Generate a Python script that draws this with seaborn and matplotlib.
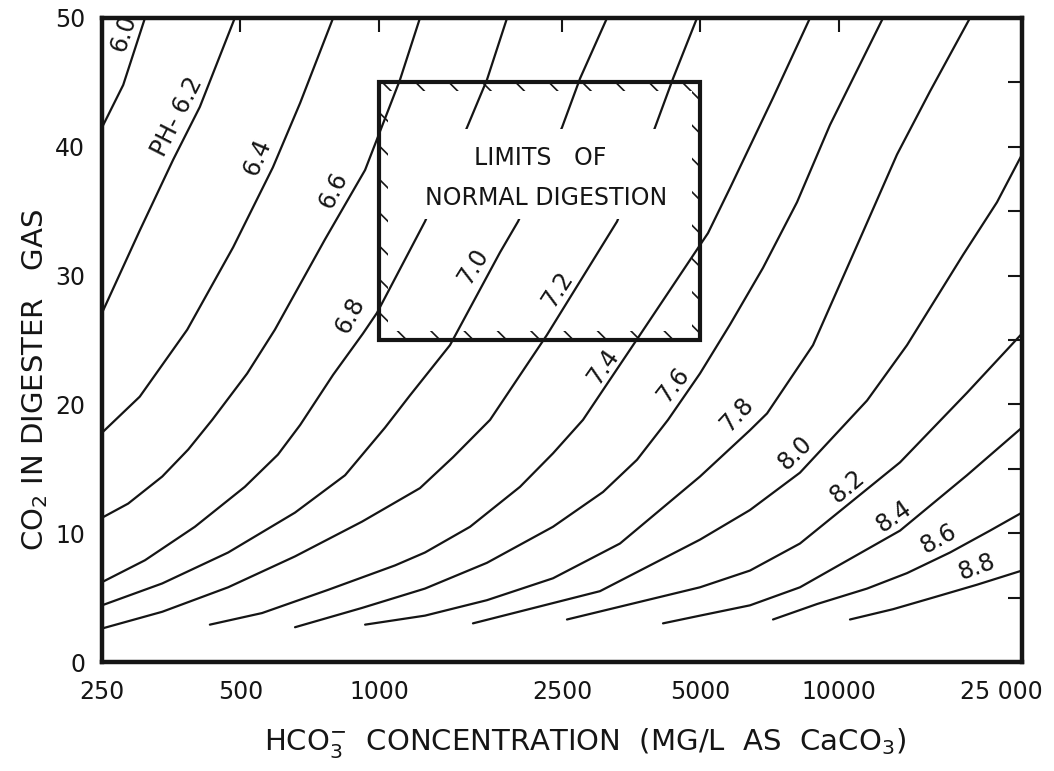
import numpy as np
import pandas as pd
import matplotlib
matplotlib.use("Agg")
import matplotlib.pyplot as plt
import seaborn as sns
from matplotlib.patches import Rectangle, PathPatch
from matplotlib.path import Path
from matplotlib.ticker import NullLocator
from matplotlib.transforms import ScaledTranslation

# pH lines: HCO3 (mg/L as CaCO3) vs CO2 (% in gas)
ph60_hco3 = [250, 278, 310]
ph60_co2 = [41.5, 44.8, 50.0]
ph62_hco3 = [250, 302, 357, 408, 486]
ph62_co2 = [27.1, 33.5, 39.0, 43.1, 50.0]
ph64_hco3 = [250, 302, 383, 482, 588, 674, 795]
ph64_co2 = [17.8, 20.6, 25.8, 32.2, 38.4, 43.4, 50.0]
ph66_hco3 = [250, 285, 338, 385, 434, 517, 594, 763, 933, 1111, 1228]
ph66_co2 = [11.2, 12.3, 14.4, 16.5, 18.8, 22.4, 25.8, 32.8, 38.2, 45.2, 50.0]
ph68_hco3 = [250, 310, 398, 511, 603, 674, 795, 923, 990, 1259, 1554, 1717, 1899]
ph68_co2 = [6.2, 7.9, 10.5, 13.6, 16.1, 18.4, 22.3, 25.5, 27.1, 34.2, 41.5, 45.2, 50.0]
ph70_hco3 = [250, 338, 470, 657, 844, 1031, 1168, 1427, 1833, 2006, 2500, 2736, 3132]
ph70_co2 = [4.4, 6.1, 8.5, 11.6, 14.5, 18.2, 20.7, 24.6, 31.8, 34.2, 41.5, 45.3, 50.0]
ph72_hco3 = [250, 338, 470, 657, 919, 1228, 1449, 1744, 2319, 3293, 3982, 4358, 4914]
ph72_co2 = [2.6, 3.9, 5.8, 8.2, 10.9, 13.5, 15.9, 18.8, 25.4, 34.2, 41.5, 45.3, 50.0]
ph74_hco3 = [429, 557, 775, 1084, 1259, 1578, 2026, 2390, 2777, 3694, 5192, 5797, 7189, 8651]
ph74_co2 = [2.9, 3.8, 5.6, 7.5, 8.5, 10.5, 13.6, 16.2, 18.8, 25.4, 33.3, 36.8, 43.8, 50.0]
ph76_hco3 = [657, 919, 1259, 1717, 2390, 3070, 3639, 4250, 4988, 5797, 6837, 8107, 9562, 12468]
ph76_co2 = [2.7, 4.2, 5.7, 7.7, 10.5, 13.2, 15.7, 18.8, 22.4, 26.2, 30.6, 35.7, 41.7, 50.0]
ph78_hco3 = [933, 1259, 1717, 2390, 3342, 4988, 6407, 6978, 8781, 11282, 13372, 15772, 19270]
ph78_co2 = [2.9, 3.6, 4.8, 6.5, 9.2, 14.4, 18.0, 19.3, 24.6, 33.4, 39.4, 44.3, 50.0]
ph80_hco3 = [1601, 3024, 4988, 6407, 8228, 11510, 14059, 18604, 22060, 25000]
ph80_co2 = [3.0, 5.5, 9.5, 11.8, 14.7, 20.3, 24.6, 31.6, 35.7, 39.4]
ph82_hco3 = [2563, 4988, 6407, 8228, 13576, 18982, 25000]
ph82_co2 = [3.3, 5.8, 7.1, 9.2, 15.5, 20.9, 25.5]
ph84_hco3 = [4145, 4988, 6407, 8228, 13576, 18982, 25000]
ph84_co2 = [3.0, 3.6, 4.4, 5.8, 10.2, 14.5, 18.2]
ph86_hco3 = [7189, 8960, 11510, 14059, 17434, 21300, 25000]
ph86_co2 = [3.3, 4.5, 5.7, 6.9, 8.5, 10.2, 11.6]
ph88_hco3 = [10568, 13110, 16013, 19957, 25000]
ph88_co2 = [3.3, 4.1, 5.0, 6.0, 7.1]

# curve labels
label_text = ["6.0", "PH- 6.2", "6.4", "6.6", "6.8", "7.0", "7.2", "7.4", "7.6",
              "7.8", "8.0", "8.2", "8.4", "8.6", "8.8"]
label_hco3 = [278, 364, 543, 795, 865, 1602, 2438, 3074, 4355, 5990, 8025, 10425, 13150, 16450, 19925]
label_co2 = [48.8, 42.3, 39.2, 36.6, 26.9, 30.7, 28.9, 22.9, 21.5, 19.2, 16.2, 13.6, 11.3, 9.6, 7.4]
label_rot = [72, 63, 67, 64, 62, 58, 57, 55, 52, 47, 44, 40, 35, 29, 20]

# normal digestion box
box_hco3 = [1000, 5000]
box_co2 = [25, 45]

x_ticks = [250, 500, 1000, 2500, 5000, 10000, 25000]
x_tick_labels = ["250", "500", "1000", "2500", "5000", "10000", "25 000"]
y_ticks = [0, 10, 20, 30, 40, 50]
y_minor = [5, 15, 25, 35, 45]

curves = [
    (6.0, ph60_hco3, ph60_co2), (6.2, ph62_hco3, ph62_co2), (6.4, ph64_hco3, ph64_co2),
    (6.6, ph66_hco3, ph66_co2), (6.8, ph68_hco3, ph68_co2), (7.0, ph70_hco3, ph70_co2),
    (7.2, ph72_hco3, ph72_co2), (7.4, ph74_hco3, ph74_co2), (7.6, ph76_hco3, ph76_co2),
    (7.8, ph78_hco3, ph78_co2), (8.0, ph80_hco3, ph80_co2), (8.2, ph82_hco3, ph82_co2),
    (8.4, ph84_hco3, ph84_co2), (8.6, ph86_hco3, ph86_co2), (8.8, ph88_hco3, ph88_co2),
]
rows = []
for ph, xs, ys in curves:
    for x, y in zip(xs, ys):
        rows.append({"ph": ph, "hco3": x, "co2": y})
df = pd.DataFrame(rows)

sns.set_style("white")
plt.rcParams["font.family"] = ["DejaVu Sans"]
plt.rcParams["hatch.linewidth"] = 1.2
ink = "#151515"

fig = plt.figure(figsize=(10.54, 7.71), dpi=100)
ax = fig.add_axes([102 / 1054, 109 / 771, 920 / 1054, 644 / 771])
ax.set_xscale("log")

sns.lineplot(data=df, x="hco3", y="co2", units="ph", estimator=None, sort=False,
             color=ink, lw=1.6, ax=ax, legend=False)

ax.set_xlim(250, 25000)
ax.set_ylim(0, 50)

# box with hatched inner border
x0, x1 = box_hco3
y0, y1 = box_co2
fx, dy = 1.045, 0.7
ring = Path(
    [(x0, y0), (x1, y0), (x1, y1), (x0, y1), (x0, y0),
     (x0 * fx, y0 + dy), (x0 * fx, y1 - dy), (x1 / fx, y1 - dy), (x1 / fx, y0 + dy), (x0 * fx, y0 + dy)],
    [Path.MOVETO, Path.LINETO, Path.LINETO, Path.LINETO, Path.CLOSEPOLY,
     Path.MOVETO, Path.LINETO, Path.LINETO, Path.LINETO, Path.CLOSEPOLY])
# blank band behind the caption
ax.add_patch(Rectangle((x0 * 1.05, 34.4), x1 / 1.05 - x0 * 1.05, 7.0,
                       facecolor="white", edgecolor="none", zorder=3))
ax.add_patch(PathPatch(ring, facecolor="none", edgecolor=ink, lw=0, hatch="\\", zorder=4))
ax.add_patch(Rectangle((x0, y0), x1 - x0, y1 - y0, facecolor="none",
                       edgecolor=ink, lw=3.0, zorder=5))
ax.text(2240, 39.1, "LIMITS   OF", ha="center", va="center", fontsize=17, color=ink, zorder=6)
ax.text(2311, 36.0, "NORMAL DIGESTION", ha="center", va="center", fontsize=17, color=ink, zorder=6)

for t, hx, cy, r in zip(label_text, label_hco3, label_co2, label_rot):
    ax.text(hx, cy, t, rotation=r, rotation_mode="anchor", ha="center", va="center",
            fontsize=17, color=ink, zorder=6)

ax.set_xticks(x_ticks, x_tick_labels)
ax.xaxis.set_minor_locator(NullLocator())
ax.set_yticks(y_ticks)
ax.set_yticks(y_minor, minor=True)
ax.tick_params(axis="both", which="both", direction="in", top=True, right=True,
               length=10, width=1.5, color=ink, labelsize=17, labelcolor=ink)
ax.tick_params(axis="x", pad=13)
ax.tick_params(axis="y", pad=12)

for s in ax.spines.values():
    s.set_linewidth(3.2)
    s.set_color(ink)

ax.set_xlabel(r"$\mathregular{HCO_3^{-}}$  CONCENTRATION  (MG/L  AS  $\mathregular{CaCO_3}$)",
              fontsize=21, color=ink)
ax.set_ylabel(r"$\mathregular{CO_2}$ IN DIGESTER   GAS", fontsize=21, color=ink)
ax.xaxis.set_label_coords(0.525, -0.100)
ax.yaxis.set_label_coords(-0.056, 0.438)

last = ax.get_xticklabels()[-1]
last.set_transform(last.get_transform() + ScaledTranslation(-0.21, 0, fig.dpi_scale_trans))

fig.savefig("out.png", dpi=100, facecolor="white")
